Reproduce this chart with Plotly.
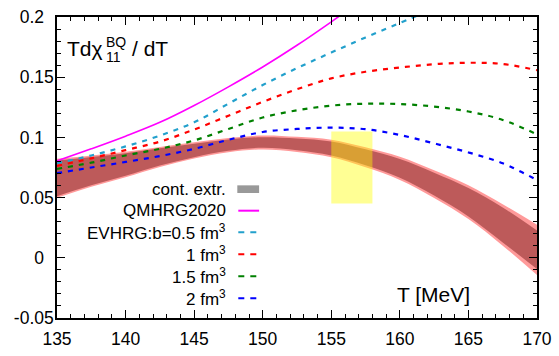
import plotly.graph_objects as go

# ---------------- data ----------------
T = [135, 137.5, 140, 142.5, 145, 147.5, 150, 152.5, 155, 157.5, 160, 162.5, 165, 167.5, 170]

qmhrg = [0.0805, 0.0905, 0.1010, 0.1125, 0.1265, 0.1420, 0.1585, 0.1765, 0.1960, 0.2165]
ev_05 = [0.0785, 0.0850, 0.0925, 0.1015, 0.1125, 0.1280, 0.1435, 0.1575, 0.1705, 0.1830, 0.1950, 0.2070]
ev_10 = [0.0764, 0.0826, 0.0894, 0.0965, 0.1065, 0.1180, 0.1295, 0.1400, 0.1490, 0.1545, 0.1580, 0.1608, 0.1620, 0.1610, 0.1558]
ev_15 = [0.0738, 0.0790, 0.0850, 0.0905, 0.0975, 0.1070, 0.1165, 0.1225, 0.1264, 0.1280, 0.1277, 0.1256, 0.1215, 0.1145, 0.1025]
ev_20 = [0.0703, 0.0750, 0.0796, 0.0845, 0.0905, 0.0980, 0.1045, 0.1070, 0.1081, 0.1068, 0.1020, 0.0950, 0.0875, 0.0785, 0.0646]

band_outer_lo = [0.0498, 0.0590, 0.0670, 0.0755, 0.0824, 0.0876, 0.0900, 0.0879, 0.0835, 0.0752, 0.0647, 0.0497, 0.0322, 0.0101, -0.0143]
band_outer_hi = [0.0822, 0.0850, 0.0880, 0.0921, 0.0960, 0.0996, 0.1016, 0.1005, 0.0981, 0.0918, 0.0839, 0.0727, 0.0602, 0.0445, 0.0275]
band_inner_lo = [0.0512, 0.0602, 0.0682, 0.0767, 0.0836, 0.0889, 0.0914, 0.0893, 0.0850, 0.0769, 0.0665, 0.0517, 0.0344, 0.0128, -0.0094]
band_inner_hi = [0.0808, 0.0838, 0.0868, 0.0909, 0.0948, 0.0983, 0.1002, 0.0991, 0.0966, 0.0901, 0.0821, 0.0707, 0.0580, 0.0418, 0.0226]

tc_T = [155, 158]          # yellow T_c region
tc_y = [0.045, 0.105]

x_ticks = [135, 140, 145, 150, 155, 160, 165, 170]
y_ticks = [-0.05, 0, 0.05, 0.1, 0.15, 0.2]
y_ticklabels = ["-0.05", "0\u00a0\u00a0", "0.05", "0.1\u00a0\u00a0", "0.15", "0.2\u00a0\u00a0"]

legend_labels = ["cont. extr.", "QMHRG2020", "EVHRG:b=0.5 fm<sup>3</sup>",
                 "1 fm<sup>3</sup>", "1.5 fm<sup>3</sup>", "2 fm<sup>3</sup>"]

# ---------------- styles ----------------
FONT = "Liberation Sans, Arial, Helvetica, sans-serif"
C_MAG = "#FF00FF"
C_CYAN = "#22A0CC"
C_RED = "#FF0000"
C_GREEN = "#008000"
C_BLUE = "#0000FF"
C_OUTER = "#FF9A9A"
C_INNER = "#BD5A5A"
DASH = "5px,6px"

fig = go.Figure()

def band(lo, hi, color):
    fig.add_trace(go.Scatter(
        x=T, y=lo, mode="lines", line=dict(width=0, color=color, shape="spline", smoothing=1),
        hoverinfo="skip", showlegend=False))
    fig.add_trace(go.Scatter(
        x=T, y=hi, mode="lines", fill="tonexty", fillcolor=color,
        line=dict(width=0, color=color, shape="spline", smoothing=1),
        hoverinfo="skip", showlegend=False))

band(band_outer_lo, band_outer_hi, C_OUTER)
band(band_inner_lo, band_inner_hi, C_INNER)

def curve(y, color, dash, width):
    fig.add_trace(go.Scatter(
        x=T[:len(y)], y=y, mode="lines",
        line=dict(color=color, width=width, dash=dash, shape="spline", smoothing=1),
        showlegend=False))

curve(ev_20, C_BLUE, DASH, 2.2)
curve(ev_15, C_GREEN, DASH, 2.2)
curve(ev_10, C_RED, DASH, 2.2)
curve(ev_05, C_CYAN, DASH, 2.2)
curve(qmhrg, C_MAG, "solid", 1.6)

# yellow Tc box (semi-transparent, above the band)
fig.add_shape(type="rect", xref="x", yref="y", x0=tc_T[0], x1=tc_T[1], y0=tc_y[0], y1=tc_y[1],
              fillcolor="rgba(255,255,0,0.42)", line=dict(width=0), layer="above")

# ---------------- layout ----------------
L, R, TOP, BOT = 57, 17.5, 7, 34.3
W, H = 559, 356
pw, ph = W - L - R, H - TOP - BOT

def px(xp):
    return (xp - L) / pw

def py(yp):
    return (H - BOT - yp) / ph

annotations = []
# manual legend
rows = [187, 209.5, 232, 255, 278, 301]
for lab, yr in zip(legend_labels, rows):
    annotations.append(dict(xref="paper", yref="paper", x=px(230), y=py(yr), text=lab,
                            xanchor="right", yanchor="middle", showarrow=False,
                            font=dict(family=FONT, size=17, color="black")))
shapes = []
shapes.append(dict(type="rect", xref="paper", yref="paper", x0=px(239), x1=px(261),
                   y0=py(191), y1=py(183), fillcolor="#999999", line=dict(width=0)))
samples = [(C_MAG, "solid"), (C_CYAN, "6px,6px"), (C_RED, "6px,6px"), (C_GREEN, "6px,6px"), (C_BLUE, "6px,6px")]
for (col, dsh), yr in zip(samples, rows[1:]):
    shapes.append(dict(type="line", xref="paper", yref="paper", x0=px(240), x1=px(261),
                       y0=py(yr), y1=py(yr), line=dict(color=col, width=2, dash=dsh)))
for s in shapes:
    fig.add_shape(**s)

# axis labels inside
annotations.append(dict(xref="paper", yref="paper", x=px(437), y=py(297), text="T [MeV]",
                        xanchor="center", yanchor="middle", showarrow=False,
                        font=dict(family=FONT, size=21, color="black")))
annotations.append(dict(xref="paper", yref="paper", x=px(65), y=py(40), text="Tdχ",
                        xanchor="left", yanchor="middle", showarrow=False,
                        font=dict(family=FONT, size=21, color="black")))
annotations.append(dict(xref="paper", yref="paper", x=px(104), y=py(33), text="BQ",
                        xanchor="left", yanchor="middle", showarrow=False,
                        font=dict(family=FONT, size=14, color="black")))
annotations.append(dict(xref="paper", yref="paper", x=px(104), y=py(49), text="11",
                        xanchor="left", yanchor="middle", showarrow=False,
                        font=dict(family=FONT, size=14, color="black")))
annotations.append(dict(xref="paper", yref="paper", x=px(131), y=py(40), text="/ dT",
                        xanchor="left", yanchor="middle", showarrow=False,
                        font=dict(family=FONT, size=21, color="black")))

axis_common = dict(showline=True, linecolor="black", linewidth=1.5, mirror="allticks",
                   ticks="inside", ticklen=8, tickwidth=1, tickcolor="black",
                   showgrid=False, zeroline=False, ticklabeloverflow="allow",
                   tickfont=dict(family=FONT, size=17.5, color="black"))

fig.update_layout(
    width=W, height=H,
    margin=dict(l=L, r=R, t=TOP, b=BOT, pad=0),
    paper_bgcolor="white", plot_bgcolor="white",
    showlegend=False,
    annotations=annotations,
    xaxis=dict(range=[135, 170], tickvals=x_ticks, ticktext=[str(v) for v in x_ticks],
               minor=dict(dtick=1, ticks="inside", ticklen=4, tickcolor="black"),
               ticklabelstandoff=4, **axis_common),
    yaxis=dict(range=[-0.05, 0.2], tickvals=y_ticks, ticktext=y_ticklabels,
               minor=dict(dtick=0.01, ticks="inside", ticklen=4, tickcolor="black"),
               ticklabelstandoff=-2, **axis_common),
)

fig.write_html("out.html")
